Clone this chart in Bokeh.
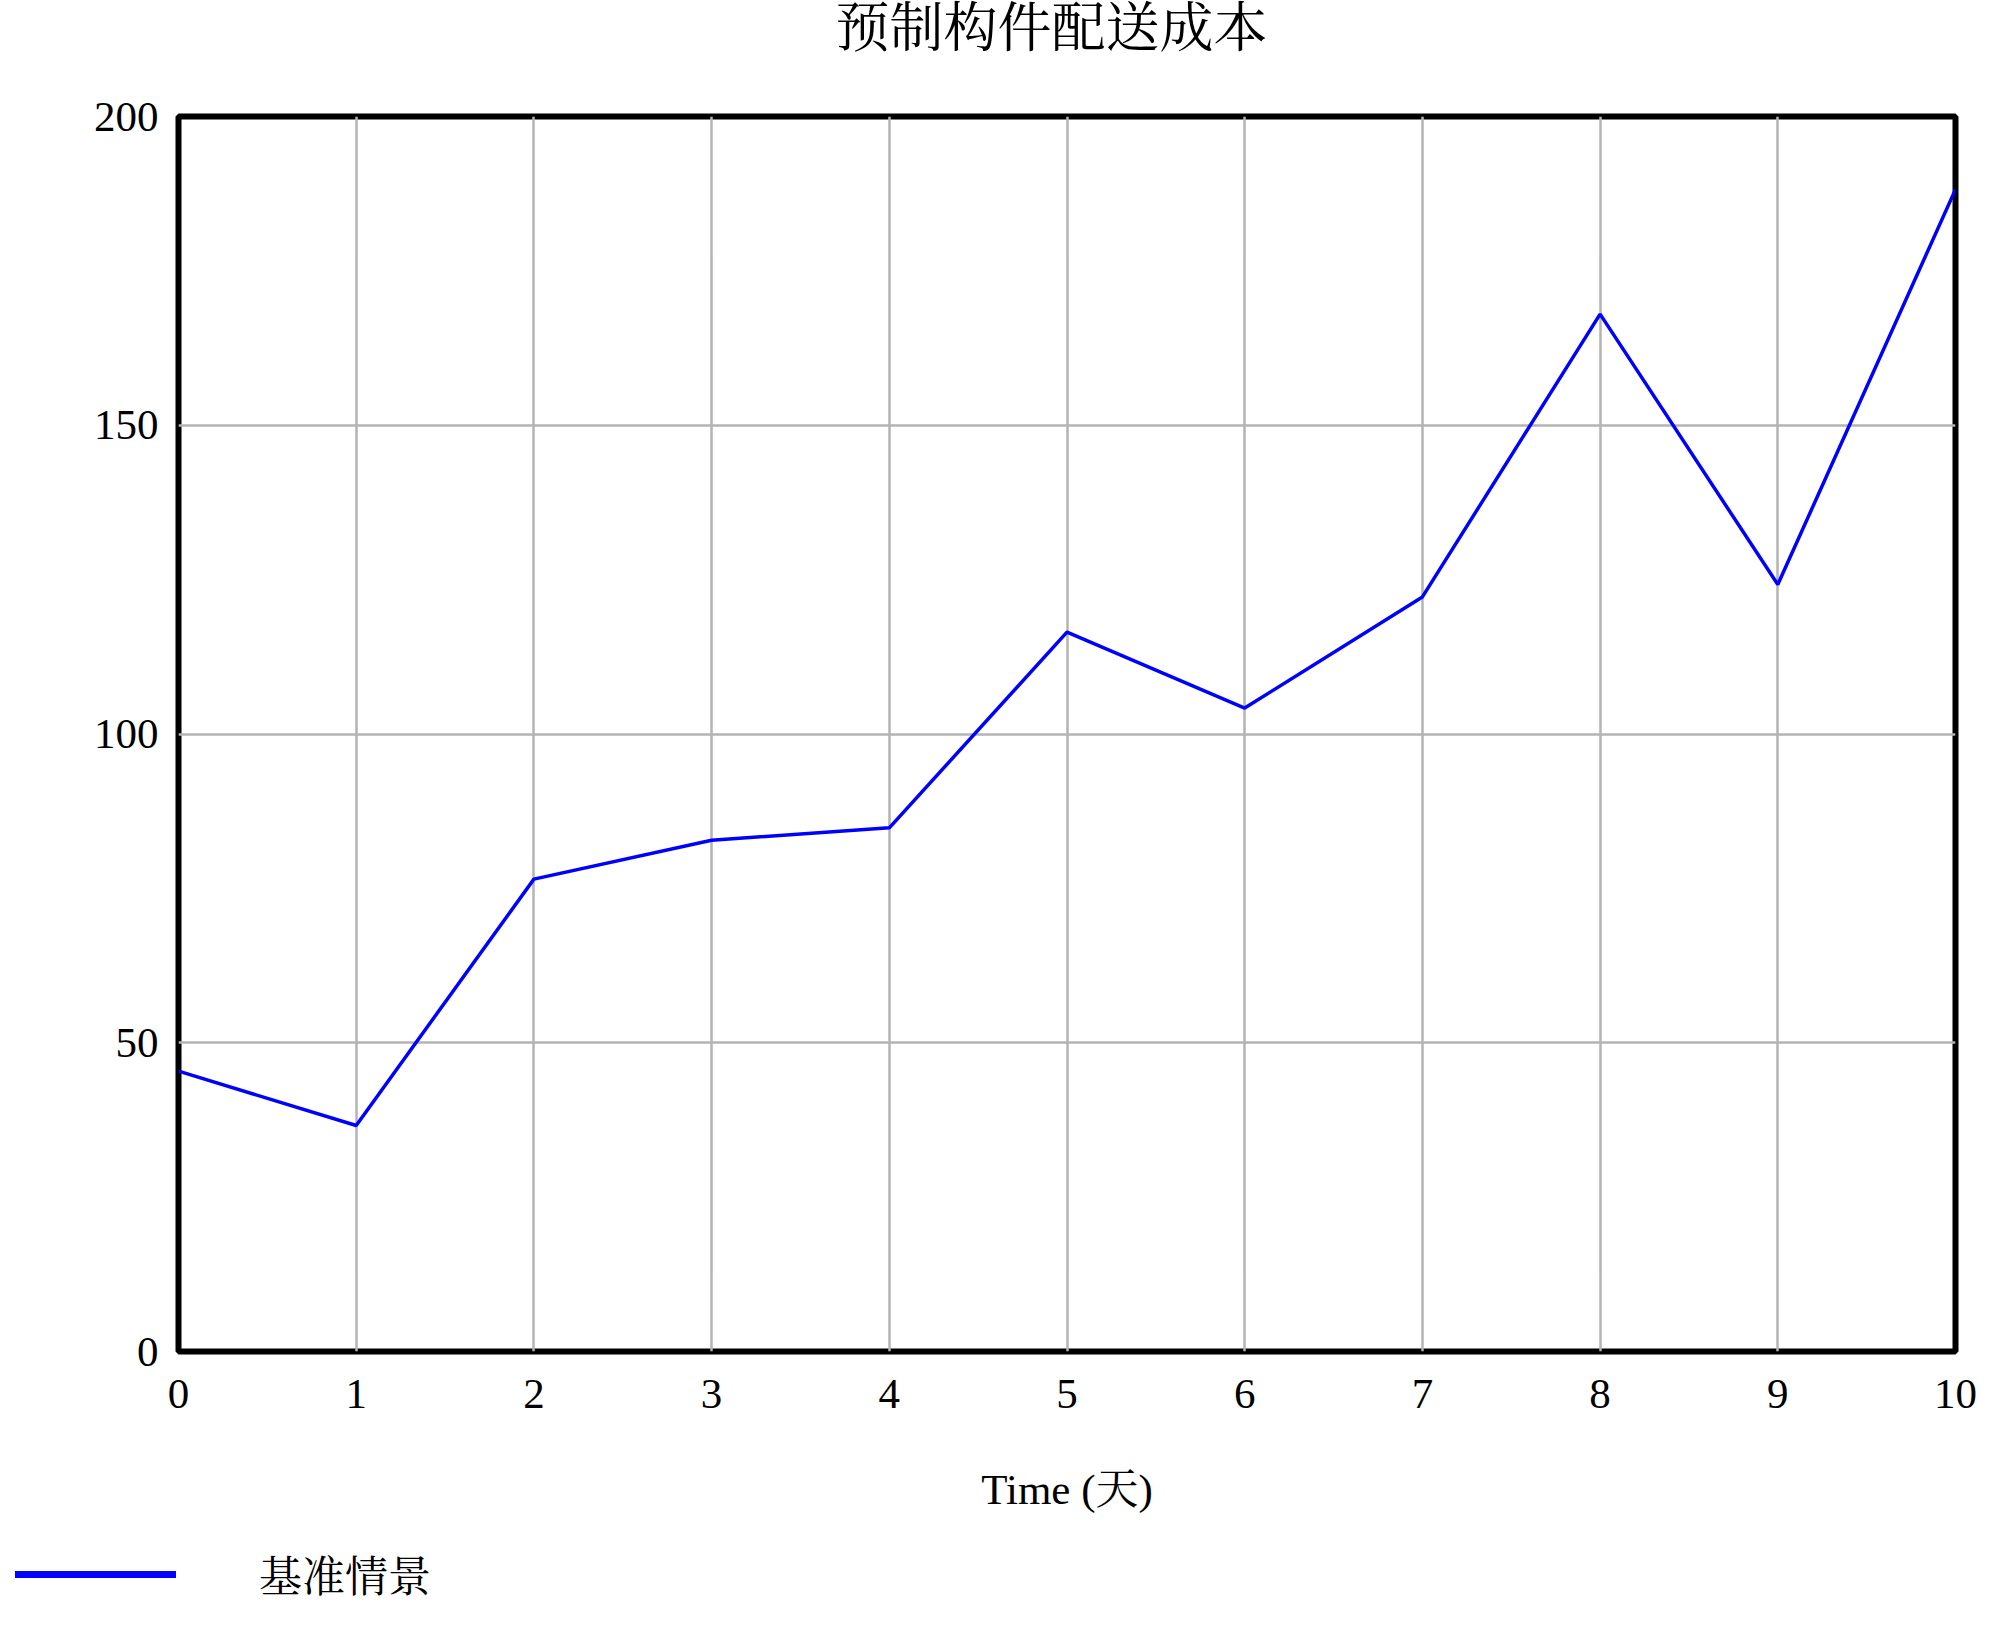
from bokeh.plotting import figure
from bokeh.layouts import column
from bokeh.models import Range1d, FixedTicker, Legend, LegendItem, ColumnDataSource, Label
from bokeh.embed import file_html
from bokeh.resources import INLINE

# ---- data ----
time_days = [0, 1, 2, 3, 4, 5, 6, 7, 8, 9, 10]
baseline_cost = [45.4, 36.6, 76.5, 82.8, 84.8, 116.5, 104.2, 122.2, 168.0, 124.2, 188.2]
x_ticks = [0, 1, 2, 3, 4, 5, 6, 7, 8, 9, 10]
y_ticks = [0, 50, 100, 150, 200]
title_text = "预制构件配送成本"
x_label = "Time (天)"
series_name = "基准情景"

FONT = "'Liberation Serif', 'Noto Serif CJK SC', 'Noto Sans CJK SC', serif"
LINE_COLOR = "#0000ff"
W = 2000
TITLE_H = 60
LEG_H = 104
MAIN_H = 1634 - TITLE_H - LEG_H

# ---- title strip ----
t = figure(width=W, height=TITLE_H, output_backend="svg", toolbar_location=None,
           x_range=Range1d(0, 1), y_range=Range1d(0, 1), min_border=0,
           x_axis_location=None, y_axis_location=None)
t.frame_align = False
t.grid.visible = False
t.outline_line_color = None
t.title.text_font_size = "1px"
t.title.standoff = 0
t.add_layout(Label(x=1051, y=TITLE_H - 28, x_units="screen", y_units="screen",
                   text=title_text, text_align="center", text_baseline="middle",
                   text_font=FONT, text_font_size="54px", text_color="black"))

# ---- main chart ----
p = figure(width=W, height=MAIN_H, output_backend="svg", toolbar_location=None,
           x_range=Range1d(0, 10), y_range=Range1d(0, 200),
           min_border_left=178, min_border_right=45, min_border_top=116 - TITLE_H,
           min_border_bottom=MAIN_H - (1351 - TITLE_H))
p.frame_align = False
p.title.text_font_size = "1px"
p.title.standoff = 0

src = ColumnDataSource(dict(t=time_days, v=baseline_cost))
p.line("t", "v", source=src, line_color=LINE_COLOR, line_width=3.5)

p.outline_line_color = "black"
p.outline_line_width = 6

for ax in (p.xaxis, p.yaxis):
    ax.axis_line_color = None
    ax.major_tick_line_color = None
    ax.minor_tick_line_color = None
    ax.major_label_text_font = FONT
    ax.major_label_text_font_size = "43px"
    ax.major_label_text_color = "black"

p.xaxis.ticker = FixedTicker(ticks=x_ticks)
p.yaxis.ticker = FixedTicker(ticks=y_ticks)
p.xaxis.major_label_standoff = 22
p.yaxis.major_label_standoff = 14
p.xaxis.axis_label = x_label
p.xaxis.axis_label_text_font = FONT
p.xaxis.axis_label_text_font_size = "43px"
p.xaxis.axis_label_text_font_style = "normal"
p.xaxis.axis_label_text_color = "black"
p.xaxis.axis_label_standoff = 55

p.xgrid.ticker = FixedTicker(ticks=x_ticks)
p.ygrid.ticker = FixedTicker(ticks=y_ticks)
p.grid.grid_line_color = "#b4b4b4"
p.grid.grid_line_width = 2.5

# ---- legend strip below the chart ----
q = figure(width=W, height=LEG_H, output_backend="svg", toolbar_location=None,
           x_range=Range1d(-100, -99), y_range=Range1d(-100, -99),
           min_border=0, x_axis_location=None, y_axis_location=None)
q.frame_align = False
q.grid.visible = False
q.outline_line_color = None
q.title.text_font_size = "1px"
q.title.standoff = 0
# same series, out of view here; only serves as the legend's swatch
proxy = q.line("t", "v", source=src, line_color=LINE_COLOR, line_width=7, line_cap="round")
legend = Legend(items=[LegendItem(label=series_name, renderers=[proxy])],
                location=(15, 30), orientation="horizontal",
                glyph_width=161, glyph_height=40, label_standoff=83,
                padding=0, margin=0, spacing=0,
                label_text_font=FONT, label_text_font_size="43px",
                label_text_color="black",
                border_line_color=None, background_fill_alpha=0)
q.add_layout(legend, "center")

layout = column(t, p, q, spacing=0)
open("out.html", "w").write(file_html(layout, INLINE))
